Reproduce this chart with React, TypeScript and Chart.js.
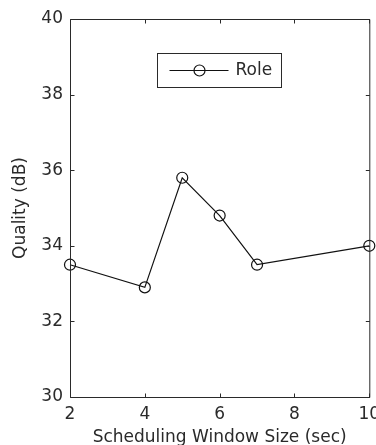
import { useEffect, useRef } from "react";
import { Chart, registerables } from "chart.js";

Chart.register(...registerables);

// Scheduling window sizes (sec) and the measured quality (dB)
const windowSizes = [2, 4, 5, 6, 7, 10];
const roleQuality = [33.5, 32.9, 35.8, 34.8, 33.5, 34.0];
const seriesLabel = "Role";

const xTickValues = [2, 4, 6, 8, 10];
const yTickValues = [30, 32, 34, 36, 38, 40];

const xTitle = "Scheduling Window Size (sec)";
const yTitle = "Quality (dB)";

const FONT_FAMILY = "'DejaVu Sans', sans-serif";
const TEXT_COLOR = "#2a2a2a";
const AXIS_COLOR = "#2a2a2a";
const LINE_COLOR = "#111111";

// Draws the boxed axes with inward ticks and the framed legend inside the plot.
const framePlugin = {
  id: "boxedFrame",
  afterDatasetsDraw(chart: any) {
    const { ctx, chartArea, scales } = chart;
    const { left, right, top, bottom } = chartArea;
    const xs = scales.x;
    const ys = scales.y;
    const tickLen = 4;

    ctx.save();
    ctx.strokeStyle = AXIS_COLOR;
    ctx.lineWidth = 1;

    const L = left + 0.5;
    const R = right + 0.5;
    const T = top + 0.5;
    const B = bottom + 0.5;

    ctx.beginPath();
    ctx.moveTo(L, T);
    ctx.lineTo(R, T);
    ctx.lineTo(R, B);
    ctx.lineTo(L, B);
    ctx.closePath();
    ctx.stroke();

    ctx.beginPath();
    for (const t of xs.ticks) {
      const px = Math.round(xs.getPixelForValue(t.value)) + 0.5;
      ctx.moveTo(px, B);
      ctx.lineTo(px, B - tickLen);
      ctx.moveTo(px, T);
      ctx.lineTo(px, T + tickLen);
    }
    for (const t of ys.ticks) {
      const py = Math.round(ys.getPixelForValue(t.value)) + 0.5;
      ctx.moveTo(L, py);
      ctx.lineTo(L + tickLen, py);
      ctx.moveTo(R, py);
      ctx.lineTo(R - tickLen, py);
    }
    ctx.stroke();

    // Legend box
    const ds = chart.data.datasets[0];
    const boxX = 157.5;
    const boxY = 53.5;
    const boxW = 124;
    const boxH = 34;
    const midY = boxY + boxH / 2;
    ctx.fillStyle = "#ffffff";
    ctx.fillRect(boxX, boxY, boxW, boxH);
    ctx.strokeStyle = AXIS_COLOR;
    ctx.lineWidth = 1;
    ctx.strokeRect(boxX, boxY, boxW, boxH);

    ctx.strokeStyle = ds.borderColor;
    ctx.lineWidth = ds.borderWidth;
    ctx.beginPath();
    ctx.moveTo(boxX + 12, midY);
    ctx.lineTo(boxX + 71, midY);
    ctx.stroke();

    ctx.lineWidth = ds.pointBorderWidth;
    ctx.beginPath();
    ctx.arc(boxX + 42, midY, ds.pointRadius, 0, Math.PI * 2);
    ctx.stroke();

    ctx.fillStyle = TEXT_COLOR;
    ctx.font = `17px ${FONT_FAMILY}`;
    ctx.textAlign = "left";
    ctx.textBaseline = "middle";
    ctx.fillText(ds.label, boxX + 78, midY);

    ctx.restore();
  },
};

export default function App() {
  const canvasRef = useRef<HTMLCanvasElement | null>(null);

  useEffect(() => {
    const canvas = canvasRef.current;
    if (!canvas) return;

    const tickFont = { family: FONT_FAMILY, size: 17 };

    const chart = new Chart(canvas, {
      type: "line",
      data: {
        datasets: [
          {
            label: seriesLabel,
            data: windowSizes.map((x, i) => ({ x, y: roleQuality[i] })),
            borderColor: LINE_COLOR,
            borderWidth: 1.2,
            pointStyle: "circle",
            pointRadius: 5.5,
            pointBorderWidth: 1.2,
            pointBorderColor: LINE_COLOR,
            pointBackgroundColor: "rgba(255,255,255,0)",
            tension: 0,
            fill: false,
            clip: false as any,
          } as any,
        ],
      },
      plugins: [framePlugin],
      options: {
        animation: false,
        responsive: false,
        maintainAspectRatio: false,
        events: [],
        layout: { padding: { top: 19, right: 1, left: 0, bottom: 0 } },
        plugins: {
          legend: { display: false },
          tooltip: { enabled: false },
        },
        scales: {
          x: {
            type: "linear",
            min: 2,
            max: 10,
            afterBuildTicks: (s: any) => {
              s.ticks = xTickValues.map((value) => ({ value }));
            },
            afterFit: (s: any) => {
              s.height = 48;
              s.paddingLeft = 0;
              s.paddingRight = 0;
            },
            grid: { display: false, drawTicks: false },
            border: { display: false },
            ticks: {
              color: TEXT_COLOR,
              font: tickFont,
              padding: 7,
              maxRotation: 0,
              autoSkip: false,
            },
            title: {
              display: true,
              text: xTitle,
              color: TEXT_COLOR,
              font: tickFont,
              padding: { top: 0, bottom: -3 },
            },
          },
          y: {
            type: "linear",
            min: 30,
            max: 40,
            afterBuildTicks: (s: any) => {
              s.ticks = yTickValues.map((value) => ({ value }));
            },
            afterFit: (s: any) => {
              s.width = 70;
              s.paddingTop = 0;
              s.paddingBottom = 0;
            },
            grid: { display: false, drawTicks: false },
            border: { display: false },
            ticks: {
              color: TEXT_COLOR,
              font: tickFont,
              padding: 7,
              autoSkip: false,
            },
            title: {
              display: true,
              text: yTitle,
              color: TEXT_COLOR,
              font: tickFont,
              padding: { top: 10, bottom: 0 },
            },
          },
        },
      } as any,
    });

    return () => chart.destroy();
  }, []);

  return (
    <div style={{ position: "fixed", left: 0, top: 0, width: 376, height: 445, background: "#ffffff" }}>
      <canvas ref={canvasRef} width={376} height={445} style={{ display: "block", width: 376, height: 445 }} />
    </div>
  );
}
